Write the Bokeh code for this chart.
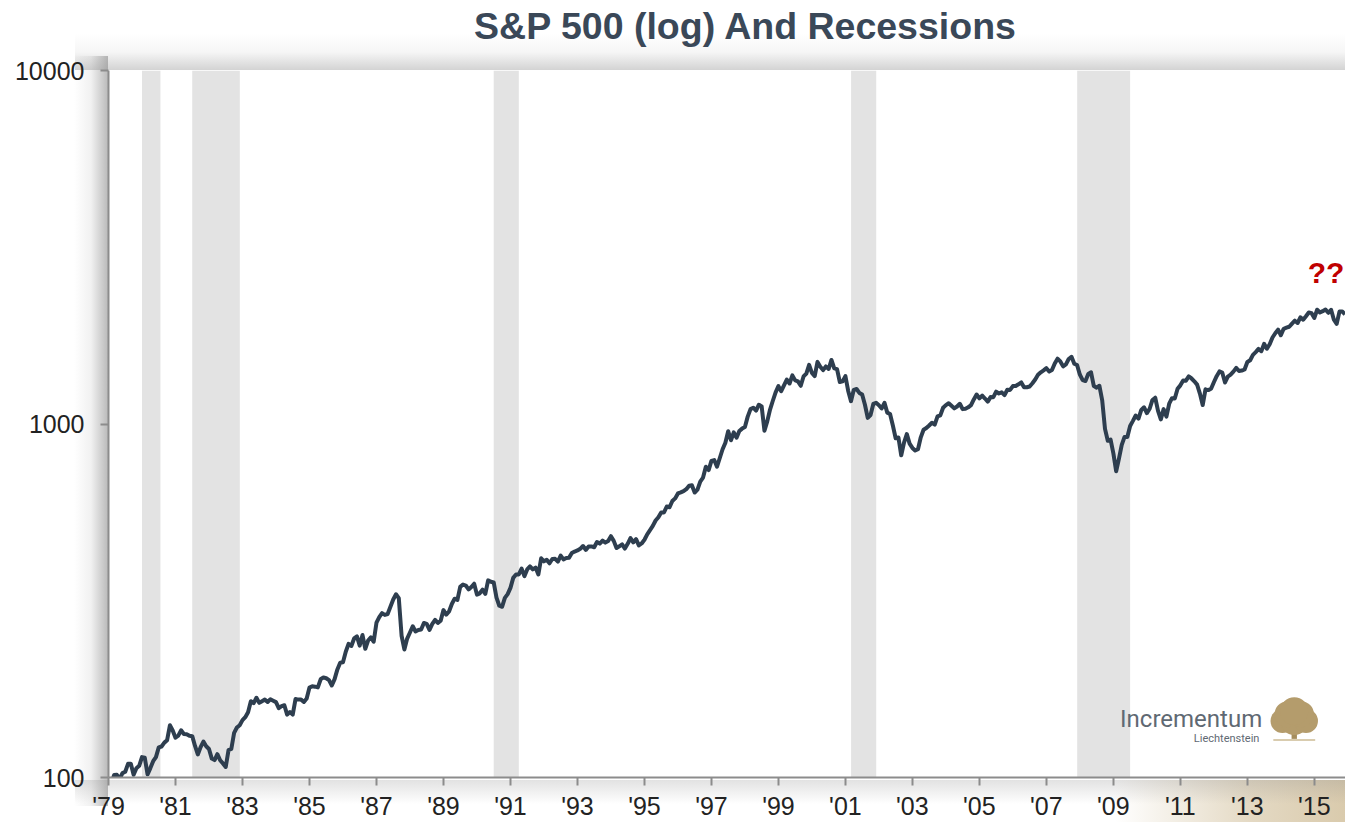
from bokeh.plotting import figure
from bokeh.models import FixedTicker, BasicTickFormatter, Range1d, Div
from bokeh.layouts import column
from bokeh.core.properties import value
from bokeh.embed import file_html
from bokeh.resources import INLINE

# ---- data ----
start_year = 1979
sp500_monthly = [
    # 1979
    99.9, 96.3, 101.6, 101.8, 99.1, 102.9, 103.8, 109.3, 109.3, 101.8, 106.2, 107.9,
    # 1980
    114.2, 113.7, 102.1, 106.3, 111.2, 114.2, 121.7, 122.4, 125.5, 127.5, 140.5, 135.8,
    # 1981
    129.6, 131.3, 136.0, 132.8, 132.6, 131.2, 130.9, 122.8, 116.2, 121.9, 126.4, 122.6,
    # 1982
    120.4, 113.1, 112.0, 116.4, 111.9, 109.6, 107.1, 119.5, 120.4, 133.7, 138.5, 140.6,
    # 1983
    145.3, 148.1, 153.0, 164.4, 162.4, 168.1, 162.6, 164.4, 166.1, 163.6, 166.4, 164.9,
    # 1984
    163.4, 157.1, 159.2, 160.1, 150.6, 153.2, 150.7, 166.7, 166.1, 166.1, 163.6, 167.2,
    # 1985
    179.6, 181.2, 180.7, 179.8, 189.6, 191.9, 190.9, 188.6, 182.1, 189.8, 202.2, 211.3,
    # 1986
    211.8, 226.9, 238.9, 235.5, 247.4, 250.8, 236.1, 252.9, 231.3, 244.0, 249.2, 242.2,
    # 1987
    274.1, 284.2, 291.7, 288.4, 290.1, 304.0, 318.7, 329.8, 321.8, 251.8, 230.3, 247.1,
    # 1988
    257.1, 267.8, 258.9, 261.3, 262.2, 273.5, 272.0, 261.5, 271.9, 279.0, 273.7, 277.7,
    # 1989
    297.5, 288.9, 294.9, 309.6, 320.5, 318.0, 346.1, 351.5, 349.2, 340.4, 346.0, 353.4,
    # 1990
    329.1, 331.9, 339.9, 330.8, 361.2, 358.0, 356.2, 322.6, 306.1, 304.0, 322.2, 330.2,
    # 1991
    343.9, 367.1, 375.2, 375.4, 389.8, 371.2, 387.8, 395.4, 387.9, 392.5, 375.2, 417.1,
    # 1992
    408.8, 412.7, 403.7, 415.0, 415.4, 408.1, 424.2, 414.0, 417.8, 418.7, 431.4, 435.7,
    # 1993
    438.8, 443.4, 451.7, 440.2, 450.2, 450.5, 448.1, 463.6, 458.9, 467.8, 461.8, 466.5,
    # 1994
    481.6, 467.1, 445.8, 450.9, 456.5, 444.3, 458.3, 475.5, 462.7, 472.4, 453.7, 459.3,
    # 1995
    470.4, 487.4, 500.7, 514.7, 533.4, 544.8, 562.1, 561.9, 584.4, 581.5, 605.4, 615.9,
    # 1996
    636.0, 640.4, 645.5, 654.2, 669.1, 670.6, 640.0, 652.0, 687.3, 705.3, 757.0, 740.7,
    # 1997
    786.2, 790.8, 757.1, 801.3, 848.3, 885.1, 954.3, 899.5, 947.3, 914.6, 955.4, 970.4,
    # 1998
    980.3, 1049.3, 1101.8, 1111.8, 1090.8, 1133.8, 1120.7, 957.3, 1017.0, 1098.7, 1163.6, 1229.2,
    # 1999
    1279.6, 1238.3, 1286.4, 1335.2, 1301.8, 1372.7, 1328.7, 1320.4, 1282.7, 1362.9, 1388.9, 1469.3,
    # 2000
    1394.5, 1366.4, 1498.6, 1452.4, 1420.6, 1454.6, 1430.8, 1517.7, 1436.5, 1429.4, 1315.0, 1320.3,
    # 2001
    1366.0, 1239.9, 1160.3, 1249.5, 1255.8, 1224.4, 1211.2, 1133.6, 1040.9, 1059.8, 1139.5, 1148.1,
    # 2002
    1130.2, 1106.7, 1147.4, 1076.9, 1067.1, 989.8, 911.6, 916.1, 815.3, 885.8, 936.3, 879.8,
    # 2003
    855.7, 841.2, 848.2, 916.9, 963.6, 974.5, 990.3, 1008.0, 996.0, 1050.7, 1058.2, 1111.9,
    # 2004
    1131.1, 1144.9, 1126.2, 1107.3, 1120.7, 1140.8, 1101.7, 1104.2, 1114.6, 1130.2, 1173.8, 1211.9,
    # 2005
    1181.3, 1203.6, 1180.6, 1156.9, 1191.5, 1191.3, 1234.2, 1220.3, 1228.8, 1207.0, 1249.5, 1248.3,
    # 2006
    1280.1, 1280.7, 1294.9, 1310.6, 1270.1, 1270.2, 1276.7, 1303.8, 1335.9, 1377.9, 1400.6, 1418.3,
    # 2007
    1438.2, 1406.8, 1420.9, 1482.4, 1530.6, 1503.4, 1455.3, 1474.0, 1526.8, 1549.4, 1481.1, 1468.4,
    # 2008
    1378.6, 1330.6, 1322.7, 1385.6, 1400.4, 1280.0, 1267.4, 1282.8, 1166.4, 968.8, 896.2, 903.3,
    # 2009
    825.9, 735.1, 797.9, 872.8, 919.1, 919.3, 987.5, 1020.6, 1057.1, 1036.2, 1095.6, 1115.1,
    # 2010
    1073.9, 1104.5, 1169.4, 1186.7, 1089.4, 1030.7, 1101.6, 1049.3, 1141.2, 1183.3, 1180.6, 1257.6,
    # 2011
    1286.1, 1327.2, 1325.8, 1363.6, 1345.2, 1320.6, 1292.3, 1218.9, 1131.4, 1253.3, 1247.0, 1257.6,
    # 2012
    1312.4, 1365.7, 1408.5, 1397.9, 1310.3, 1362.2, 1379.3, 1406.6, 1440.7, 1412.2, 1416.2, 1426.2,
    # 2013
    1498.1, 1514.7, 1569.2, 1597.6, 1630.7, 1606.3, 1685.7, 1633.0, 1681.6, 1756.5, 1805.8, 1848.4,
    # 2014
    1782.6, 1859.5, 1872.3, 1884.0, 1923.6, 1960.2, 1930.7, 2003.4, 1972.3, 2018.1, 2067.6, 2058.9,
    # 2015
    1995.0, 2104.5, 2067.9, 2085.5, 2107.4, 2063.1, 2103.8, 1972.2, 1920.0, 2079.4, 2080.4, 2043.9,
]
recession_start = [1980.0, 1981.5, 1990.5, 2001.17, 2007.92]
recession_end = [1980.55, 1982.92, 1991.25, 2001.92, 2009.5]
tick_years = list(range(1979, 2016, 2))
tick_labels = ["'" + str(y)[2:] for y in tick_years]
y_ticks = [100, 1000, 10000]

dates = [start_year + i / 12 for i in range(len(sp500_monthly))]

# ---- title (HTML text above the plot) ----
title_div = Div(text="S&amp;P 500 (log) And Recessions", width=1345, height=52, margin=0,
                styles={"font-family": "'Liberation Sans', Arial, sans-serif",
                        "font-size": "37.5px", "font-weight": "bold", "color": "#3a4858",
                        "text-align": "center", "text-indent": "145px",
                        "line-height": "52px", "white-space": "nowrap"})

# ---- figure ----
p = figure(width=1345, height=770, y_axis_type="log",
           x_range=Range1d(1979.0, 2015.93), y_range=Range1d(100, 10000),
           output_backend="svg", toolbar_location=None, margin=0,
           min_border_left=108, min_border_right=0, min_border_top=18, min_border_bottom=42)
p.background_fill_color = "white"
p.border_fill_color = None
p.outline_line_color = None
p.grid.visible = False

# recession bands
p.quad(left=recession_start, right=recession_end, bottom=100, top=10000,
       fill_color="#e3e3e3", line_color=None)

# S&P line
p.line(dates, sp500_monthly, line_color="#2e3e4f", line_width=4, line_join="round")

# annotations
p.text(x=[2014.8], y=[2680], text=["??"], text_color="#c00000",
       text_font=value("Liberation Sans"), text_font_style="bold",
       text_font_size="30px", text_baseline="alphabetic")
p.text(x=[2009.2], y=[146.5], text=["Incrementum"], text_color="#5f6973",
       text_font=value("Roboto"), text_font_size="24px", text_baseline="alphabetic")
p.text(x=[2013.36], y=[128.8], text=["Liechtenstein"], text_color="#5f6973",
       text_font=value("Roboto"), text_font_size="11px", text_align="right",
       text_baseline="alphabetic")
# logo tree (decorative)
p.rect(x=[2014.40], y=[127.6], width=1.25, height=1.3, fill_color="#cdbb94", line_color=None)
p.rect(x=[2014.40], y=[132.2], width=0.16, height=7.2, fill_color="#a68d5c", line_color=None)
p.scatter(x=[2014.05, 2014.40, 2014.75, 2014.20, 2014.60, 2014.40],
          y=[144.5, 144.5, 144.5, 151.0, 151.0, 154.0],
          size=[24, 28, 24, 26, 26, 28], marker="circle", fill_color="#b49c6c", line_color=None)

# axes
ax = p.xaxis[0]
ax.ticker = FixedTicker(ticks=tick_years)
ax.major_label_overrides = {y: l for y, l in zip(tick_years, tick_labels)}
ax.minor_tick_line_color = None
ax.major_tick_in = 0
ax.major_tick_out = 8
ax.axis_line_color = "#8c8c8c"
ax.axis_line_width = 2
ax.major_tick_line_color = "#8c8c8c"
ax.major_tick_line_width = 2
ax.major_label_text_font = "Liberation Sans"
ax.major_label_text_font_size = "25px"
ax.major_label_text_color = "#222222"
ax.major_label_standoff = 6

ay = p.yaxis[0]
ay.ticker = FixedTicker(ticks=y_ticks)
ay.formatter = BasicTickFormatter(use_scientific=False)
ay.minor_tick_line_color = None
ay.major_tick_in = 0
ay.major_tick_out = 8
ay.axis_line_color = "#8c8c8c"
ay.axis_line_width = 2
ay.major_tick_line_color = "#8c8c8c"
ay.major_tick_line_width = 2
ay.major_label_text_font = "Liberation Sans"
ay.major_label_text_font_size = "25px"
ay.major_label_text_color = "#222222"
ay.major_label_standoff = 16

# ---- page layout with soft drop shadow around the plot frame ----
layout = column(title_div, p, spacing=0, margin=0, width=1345, height=822)
layout.styles = {
    "background-color": "white",
    "background-image": ", ".join([
        "linear-gradient(to right, rgba(140,140,140,0) 0%, rgba(140,140,140,0.12) 50%, rgba(140,140,140,0.60) 100%)",
        "linear-gradient(to bottom, rgba(140,140,140,0) 0%, rgba(140,140,140,0.08) 50%, rgba(140,140,140,0.38) 100%)",
        "linear-gradient(to top, rgba(140,140,140,0) 0%, rgba(140,140,140,0.25) 100%)",
        "linear-gradient(to right, rgba(205,185,145,0) 0%, rgba(205,185,145,0.55) 60%, rgba(205,185,145,0.75) 100%)",
    ]),
    "background-size": "34px 750px, 1270px 36px, 1270px 24px, 230px 42px",
    "background-position": "74px 56px, 75px 34px, 75px 780px, 1115px 780px",
    "background-repeat": "no-repeat",
}

open("out.html", "w").write(file_html(layout, INLINE))
